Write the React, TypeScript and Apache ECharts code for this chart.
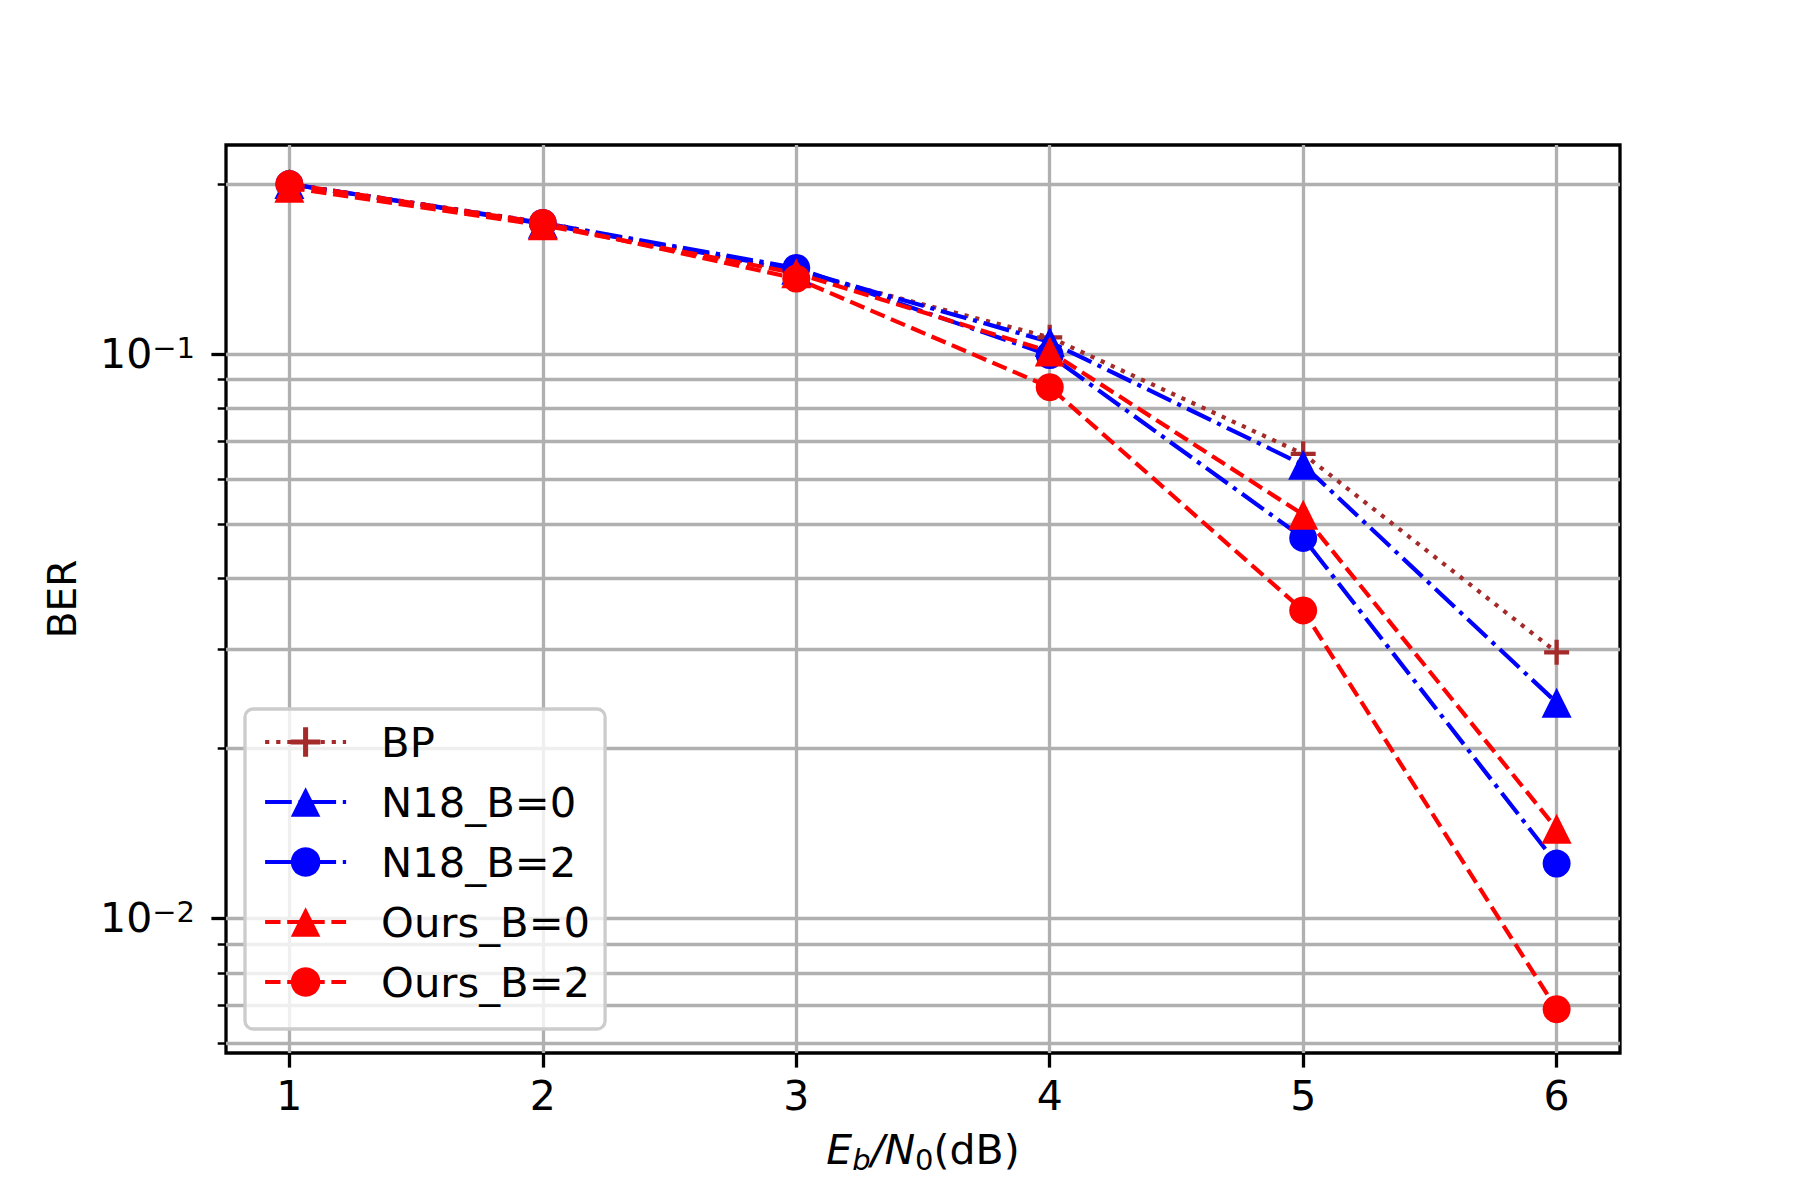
import React, { useEffect, useRef } from "react";
import * as echarts from "echarts";

const xValues = [1, 2, 3, 4, 5, 6];
const xTicks = [1, 2, 3, 4, 5, 6];
const seriesNames = ["BP", "N18_B=0", "N18_B=2", "Ours_B=0", "Ours_B=2"];
const bp = [0.2, 0.171, 0.14, 0.107, 0.0665, 0.0296];
const n18b0 = [0.2, 0.17, 0.141, 0.105, 0.0636, 0.0241];
const n18b2 = [0.2, 0.1706, 0.142, 0.0995, 0.0472, 0.0125];
const oursb0 = [0.197, 0.169, 0.139, 0.101, 0.0519, 0.0144];
const oursb2 = [0.2, 0.1706, 0.136, 0.0873, 0.0351, 0.0069];
const yMajorTicks = [0.01, 0.1];
const yMinorTicks = [0.006, 0.007, 0.008, 0.009, 0.02, 0.03, 0.04, 0.05, 0.06, 0.07, 0.08, 0.09, 0.2];
const yMin = 0.00577;
const yMax = 0.2345;
const xMin = 0.75;
const xMax = 6.25;

const FONT = "DejaVu Sans";
const GRID_COLOR = "#b0b0b0";
const PLUS = "path://M-1,-0.17H-0.17V-1H0.17V-0.17H1V0.17H0.17V1H-0.17V0.17H-1Z";

function pairs(ys: number[]) {
  return xValues.map((x, i) => [x, ys[i]]);
}

export default function App() {
  const ref = useRef<HTMLDivElement>(null);
  useEffect(() => {
    if (!ref.current) return;
    const chart = echarts.init(ref.current, undefined, { renderer: "svg" });
    const lw = 4.2;
    const mk = (name: string, data: number[], color: string, dash: number[], symbol: string, size: number) => ({
      name,
      type: "line",
      data: pairs(data),
      symbol,
      symbolSize: size,
      showSymbol: true,
      lineStyle: { color, width: lw, type: dash, cap: "butt" },
      itemStyle: { color, borderWidth: 0 },
      emphasis: { disabled: true },
    });
    const dotted = [4.2, 6.9];
    const dashdot = [26.7, 6.7, 4.2, 6.7];
    const dashed = [15.4, 6.7];
    chart.setOption({
      animation: false,
      backgroundColor: "#ffffff",
      textStyle: { fontFamily: FONT },
      grid: {
        left: 226,
        right: 180,
        top: 145,
        bottom: 147,
        containLabel: false,
        outerBoundsMode: "none",
        show: true,
        borderColor: "#000000",
        borderWidth: 3.3,
        backgroundColor: "transparent",
      },
      legend: {
        data: seriesNames,
        orient: "vertical",
        left: 245,
        top: 709,
        padding: [12, 15, 26, 18],
        itemWidth: 81,
        itemHeight: 37,
        itemGap: 18,
        backgroundColor: "rgba(255,255,255,0.8)",
        borderColor: "#cccccc",
        borderWidth: 3.3,
        borderRadius: 8,
        lineStyle: { width: 4.2 },
        textStyle: {
          fontFamily: FONT,
          fontSize: 41.7,
          color: "#000000",
          padding: [0, 0, 0, 30],
        },
        selectedMode: false,
      },
      xAxis: {
        type: "value",
        min: xMin,
        max: xMax,
        axisLine: { show: false },
        axisTick: {
          show: true,
          customValues: xTicks,
          length: 14.6,
          lineStyle: { color: "#000", width: 3.3 },
        },
        axisLabel: {
          customValues: xTicks,
          fontFamily: FONT,
          fontSize: 41,
          color: "#000",
          lineHeight: 41,
          margin: 22,
        },
        splitLine: { show: true, lineStyle: { color: GRID_COLOR, width: 3.3 } },
        name: "{i|E}{isub|b}{i|/N}{sub|0}{n|(dB)}",
        nameLocation: "middle",
        nameGap: 76,
        nameTextStyle: {
          fontFamily: FONT,
          color: "#000",
          rich: {
            i: { fontFamily: FONT, fontSize: 41, fontStyle: "italic", lineHeight: 41, color: "#000" },
            isub: { fontFamily: FONT, fontSize: 29, fontStyle: "italic", lineHeight: 29, verticalAlign: "top", padding: [16, 0, 0, 0], color: "#000" },
            sub: { fontFamily: FONT, fontSize: 29, lineHeight: 29, verticalAlign: "top", padding: [16, 0, 0, 0], color: "#000" },
            n: { fontFamily: FONT, fontSize: 41, lineHeight: 41, color: "#000" },
          },
        },
      },
      yAxis: [
        {
          type: "log",
          logBase: 10,
          min: yMin,
          max: yMax,
          axisLine: { show: false },
          axisTick: {
            show: true,
            customValues: yMajorTicks,
            length: 14.6,
            lineStyle: { color: "#000", width: 3.3 },
          },
          axisLabel: {
            customValues: yMajorTicks,
            margin: 31,
            formatter: (v: number) => {
              const e = Math.round(Math.log10(v));
              return "{b|10}{s|" + (e < 0 ? "\u2212" + -e : String(e)) + "}";
            },
            rich: {
              b: { fontFamily: FONT, fontSize: 41, lineHeight: 41, color: "#000" },
              s: { fontFamily: FONT, fontSize: 29, lineHeight: 29, verticalAlign: "top", color: "#000" },
            },
          },
          splitLine: { show: true, lineStyle: { color: GRID_COLOR, width: 3.3 } },
          minorTick: { show: false },
          minorSplitLine: { show: false },
          name: "BER",
          nameLocation: "middle",
          nameRotate: 90,
          nameGap: 143,
          nameTextStyle: { fontFamily: FONT, fontSize: 39, color: "#000", lineHeight: 41 },
        },
        {
          type: "log",
          logBase: 10,
          min: yMin,
          max: yMax,
          position: "left",
          axisLine: { show: false },
          axisTick: {
            show: true,
            customValues: yMinorTicks,
            length: 8.3,
            lineStyle: { color: "#000", width: 2.5 },
          },
          axisLabel: { show: false, customValues: yMinorTicks },
          splitLine: { show: true, lineStyle: { color: GRID_COLOR, width: 3.3 } },
        },
      ],
      series: [
        mk(seriesNames[0], bp, "#a52a2a", dotted, PLUS, 25),
        mk(seriesNames[1], n18b0, "#0000ff", dashdot, "triangle", 30),
        mk(seriesNames[2], n18b2, "#0000ff", dashdot, "circle", 28),
        mk(seriesNames[3], oursb0, "#ff0000", dashed, "triangle", 30),
        mk(seriesNames[4], oursb2, "#ff0000", dashed, "circle", 28),
      ],
    });
    return () => chart.dispose();
  }, []);
  return (
    <div
      ref={ref}
      style={{ position: "absolute", left: 0, top: 0, width: 1800, height: 1200, background: "#fff" }}
    />
  );
}
